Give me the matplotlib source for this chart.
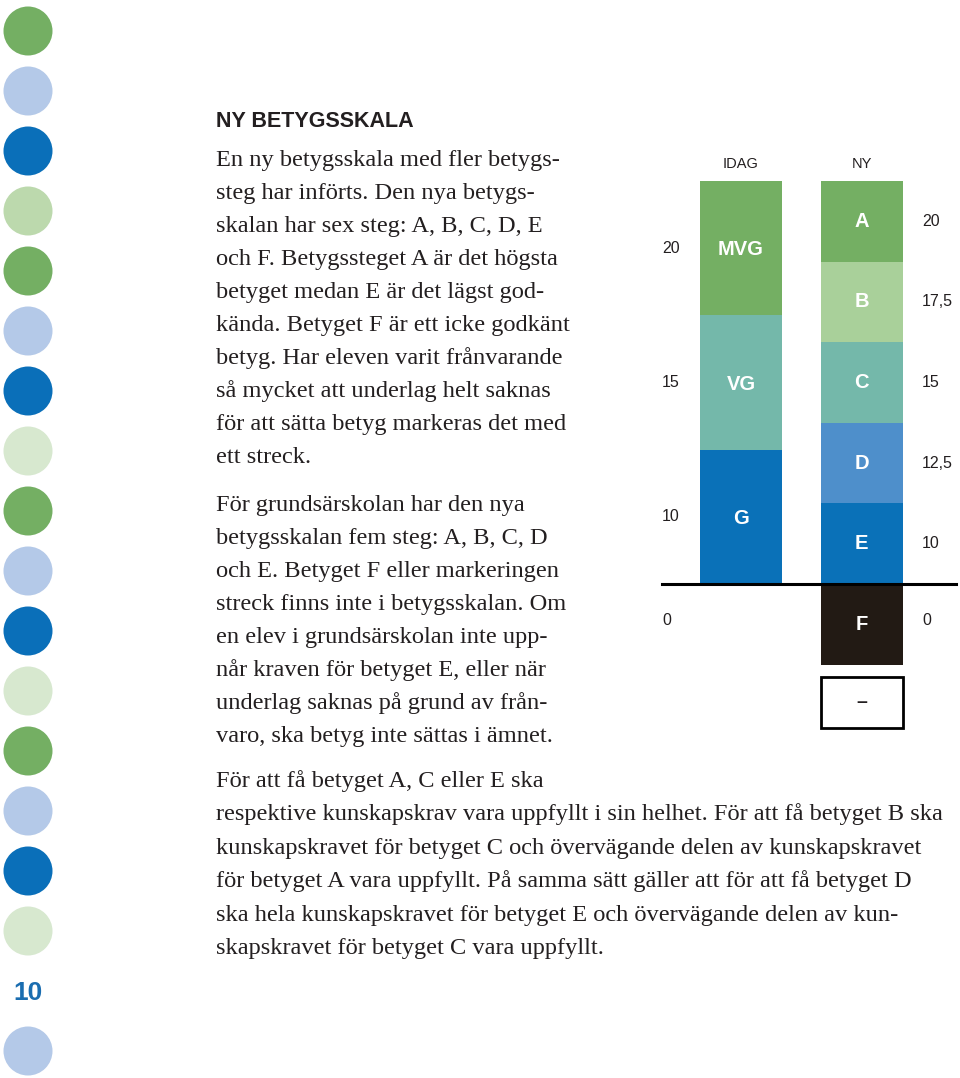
import matplotlib.pyplot as plt
from matplotlib.patches import Circle, Rectangle

# --- data ---
idag_grades = ["G", "VG", "MVG"]
idag_points = ["10", "15", "20"]
idag_colors = ["#0a71b8", "#74b8aa", "#74af63"]

ny_grades = ["E", "D", "C", "B", "A"]
ny_points = ["10", "12,5", "15", "17,5", "20"]
ny_colors = ["#0a71b8", "#4e8fcb", "#74b8aa", "#a9d09a", "#74af63"]

fail_grade = "F"
fail_points = "0"
no_grade = "–"

bar_names = ["IDAG", "NY"]

heading = "NY BETYGSSKALA"
para1 = ["En ny betygsskala med fler betygs-",
         "steg har införts. Den nya betygs-",
         "skalan har sex steg: A, B, C, D, E",
         "och F. Betygssteget A är det högsta",
         "betyget medan E är det lägst god-",
         "kända. Betyget F är ett icke godkänt",
         "betyg. Har eleven varit frånvarande",
         "så mycket att underlag helt saknas",
         "för att sätta betyg markeras det med",
         "ett streck."]
para2 = ["För grundsärskolan har den nya",
         "betygsskalan fem steg: A, B, C, D",
         "och E. Betyget F eller markeringen",
         "streck finns inte i betygsskalan. Om",
         "en elev i grundsärskolan inte upp-",
         "når kraven för betyget E, eller när",
         "underlag saknas på grund av från-",
         "varo, ska betyg inte sättas i ämnet."]
para3 = ["För att få betyget A, C eller E ska",
         "respektive kunskapskrav vara uppfyllt i sin helhet. För att få betyget B ska",
         "kunskapskravet för betyget C och övervägande delen av kunskapskravet",
         "för betyget A vara uppfyllt. På samma sätt gäller att för att få betyget D",
         "ska hela kunskapskravet för betyget E och övervägande delen av kun-",
         "skapskravet för betyget C vara uppfyllt."]

dot_colors = ["#74af63", "#b4c9e8", "#0a6fb9", "#bcd9ad",
              "#74af63", "#b4c9e8", "#0a6fb9", "#d7e8cf",
              "#74af63", "#b4c9e8", "#0a6fb9", "#d7e8cf",
              "#74af63", "#b4c9e8", "#0a6fb9", "#d7e8cf",
              None, "#b4c9e8"]
page_number = "10"

ink = "#231f20"
serif = "Liberation Serif"
sans = "Liberation Sans"

fig = plt.figure(figsize=(9.6, 10.78), dpi=100)

# page layer in pixel coordinates
page = fig.add_axes([0, 0, 1, 1])
page.set_xlim(0, 960)
page.set_ylim(1078, 0)
page.axis("off")

for i, c in enumerate(dot_colors):
    y = 31 + 60 * i
    if c is None:
        page.text(28, y + 2, page_number, ha="center", va="center",
                  fontsize=19, fontweight="bold", color="#1a6db0", family=sans)
    else:
        page.add_patch(Circle((28, y), 24.5, color=c, lw=0))

page.text(216, 127, heading, fontsize=15.5, fontweight="bold", color=ink,
          family=sans, va="baseline")
for i, line in enumerate(para1):
    page.text(216, 166 + 33 * i, line, fontsize=17.6, color=ink, family=serif, va="baseline")
for i, line in enumerate(para2):
    page.text(216, 511 + 33 * i, line, fontsize=17.6, color=ink, family=serif, va="baseline")
for i, line in enumerate(para3):
    page.text(216, 787 + 33.4 * i, line, fontsize=17.6, color=ink, family=serif, va="baseline")

# chart layer
ax = fig.add_axes([640 / 960, (1078 - 740) / 1078, 320 / 960, 600 / 1078])
ax.set_xlim(-0.838, 1.817)
ax.set_ylim(-1.935, 5.51)
ax.axis("off")

w = 0.68
total = len(ny_grades)
h_idag = total / len(idag_grades)
lab = dict(color=ink, fontsize=11.5, family=sans, va="center", ha="left")
grade = dict(color="white", fontsize=14.5, fontweight="bold", family=sans,
             ha="center", va="center")

bottom = 0
for g, p, c in zip(idag_grades, idag_points, idag_colors):
    ax.bar(0, h_idag, w, bottom=bottom, color=c, lw=0)
    ax.text(0, bottom + h_idag / 2 - 0.02, g, **grade)
    ax.text(-0.656, bottom + h_idag / 2, p, **lab)
    bottom += h_idag

bottom = 0
for g, p, c in zip(ny_grades, ny_points, ny_colors):
    ax.bar(1, 1, w, bottom=bottom, color=c, lw=0)
    ax.text(1, bottom + 0.5, g, **grade)
    ax.text(1.502, bottom + 0.5, p, **lab)
    bottom += 1

ax.bar(1, -1, w, bottom=0, color="#221a14", lw=0)
ax.text(1, -0.5, fail_grade, **grade)
ax.text(-0.656, -0.45, fail_points, **lab)
ax.text(1.502, -0.45, fail_points, **lab)

ax.add_patch(Rectangle((1 - w / 2, -1.787), w, 0.633, fill=False, ec="black", lw=2))
ax.text(1, -1.47, no_grade, ha="center", va="center", color=ink,
        fontsize=14, fontweight="bold", family=sans)

ax.axhline(0, xmin=22 / 320, xmax=316 / 320, color="black", lw=2.2)

for x, name in enumerate(bar_names):
    ax.text(x, 5.21, name, ha="center", va="center", color=ink, fontsize=10.5, family=sans)

fig.savefig("out.png", dpi=100)
